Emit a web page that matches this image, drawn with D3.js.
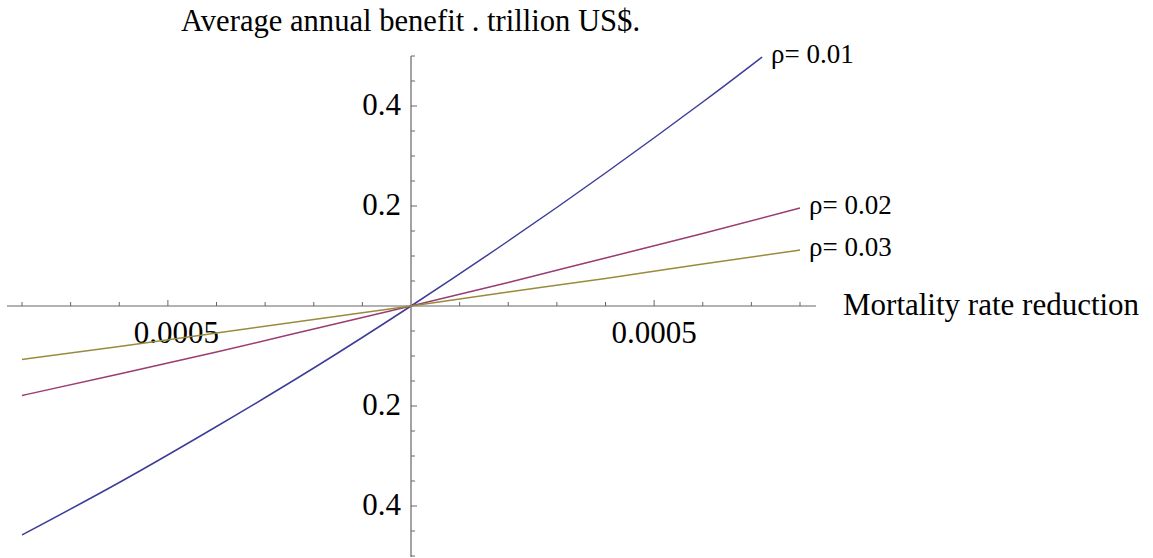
<!DOCTYPE html>
<html>
<head>
<meta charset="utf-8">
<script src="https://cdn.jsdelivr.net/npm/d3@7"></script>
<style>
  html, body { margin: 0; padding: 0; background: #fff; }
  svg { display: block; }
  text { font-family: "Liberation Serif", "Times New Roman", serif; fill: #000; }
</style>
</head>
<body>
<svg id="chart" width="1153" height="558"></svg>
<script>
// ---- data ----
const xValues = [-0.0008, -0.0006, -0.0004, -0.0002, 0, 0.0002, 0.0004, 0.0006, 0.0008];
const rho001 = [-0.458, -0.353, -0.241, -0.124, 0, 0.130, 0.266, 0.408, null];
const rho001EndX = 0.000722, rho001EndY = 0.498;   // curve leaves plot range at top
const rho002 = [-0.179, -0.136, -0.092, -0.046, 0, 0.047, 0.096, 0.145, 0.196];
const rho003 = [-0.107, -0.081, -0.054, -0.027, 0, 0.028, 0.055, 0.084, 0.112];
const seriesNames = ["\u03c1= 0.01", "\u03c1= 0.02", "\u03c1= 0.03"];
const seriesColors = ["#3d3d99", "#993d71", "#998b3d"];
const xTickValues = [-0.0005, 0.0005];
const xTickLabels = ["0.0005", "0.0005"];
const yTickValues = [0.4, 0.2, -0.2, -0.4];
const yTickLabels = ["0.4", "0.2", "0.2", "0.4"];
const title = "Average annual benefit . trillion US$.";
const xTitle = "Mortality rate reduction";

// ---- scales ----
const svg = d3.select("#chart");
const x = d3.scaleLinear().domain([-0.0008, 0.0008]).range([22, 800]);
const y = d3.scaleLinear().domain([-0.5, 0.5]).range([556, 56]);
const axisColor = "#666666";

// ---- x axis (through y=0) ----
const xMinor = d3.range(-8, 9).map(i => i * 0.0001).filter(v => Math.abs(v) > 1e-9);
const gx = svg.append("g").attr("transform", `translate(0,${y(0)})`);
gx.append("line").attr("x1", 7).attr("x2", 816).attr("stroke", axisColor).attr("stroke-width", 1.2);
gx.selectAll("line.tick").data(xMinor).join("line")
  .attr("class", "tick")
  .attr("x1", d => x(d)).attr("x2", d => x(d))
  .attr("y1", 0).attr("y2", d => Math.abs(Math.abs(d) - 0.0005) < 1e-9 ? -6 : -4)
  .attr("stroke", axisColor).attr("stroke-width", 1);
gx.selectAll("text").data(xTickValues).join("text")
  .attr("x", d => x(d) + (d < 0 ? 8.5 : 0))
  .attr("y", 37)
  .attr("text-anchor", "middle")
  .attr("font-size", 31)
  .text((d, i) => xTickLabels[i]);

// ---- y axis (through x=0) ----
const yMinor = d3.range(-10, 11).map(i => i * 0.05).filter(v => Math.abs(v) > 1e-9);
const gy = svg.append("g").attr("transform", `translate(${x(0)},0)`);
gy.append("line").attr("y1", 56).attr("y2", 557).attr("stroke", axisColor).attr("stroke-width", 1.2);
gy.selectAll("line.tick").data(yMinor).join("line")
  .attr("class", "tick")
  .attr("y1", d => y(d)).attr("y2", d => y(d))
  .attr("x1", 0).attr("x2", d => (Math.round(Math.abs(d) * 100) % 20 === 0) ? 6 : 4)
  .attr("stroke", axisColor).attr("stroke-width", 1);
gy.selectAll("text").data(yTickValues).join("text")
  .attr("x", -10)
  .attr("y", d => y(d) + 9)
  .attr("text-anchor", "end")
  .attr("font-size", 31)
  .text((d, i) => yTickLabels[i]);

// ---- curves ----
const series = [
  xValues.map((xv, i) => [xv, rho001[i]]).filter(p => p[1] !== null).concat([[rho001EndX, rho001EndY]]),
  xValues.map((xv, i) => [xv, rho002[i]]),
  xValues.map((xv, i) => [xv, rho003[i]])
];
const line = d3.line().x(d => x(d[0])).y(d => y(d[1])).curve(d3.curveNatural);
series.forEach((s, i) => {
  svg.append("path").attr("d", line(s))
    .attr("fill", "none").attr("stroke", seriesColors[i]).attr("stroke-width", 1.5);
  const last = s[s.length - 1];
  svg.append("text")
    .attr("x", x(last[0]) + 9)
    .attr("y", y(last[1]) + 6)
    .attr("font-size", 27)
    .text(seriesNames[i]);
});

// ---- titles ----
svg.append("text").attr("x", 181).attr("y", 31).attr("font-size", 30.6).text(title);
svg.append("text").attr("x", 843).attr("y", 315).attr("font-size", 31).text(xTitle);
</script>
</body>
</html>
